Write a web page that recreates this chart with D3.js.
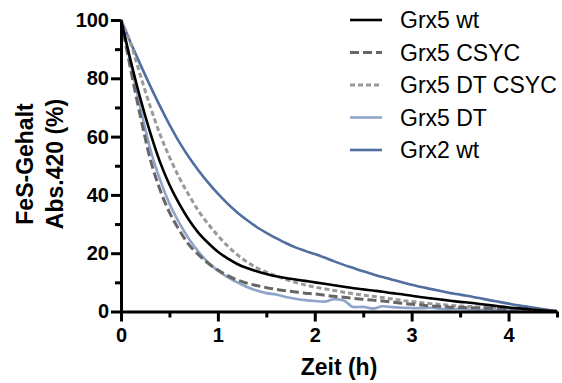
<!DOCTYPE html>
<html>
<head>
<meta charset="utf-8">
<script src="https://cdn.jsdelivr.net/npm/d3@7"></script>
<style>
    body { margin: 0; background: #fff; }
    svg { display: block; font-family: "Liberation Sans", Arial, sans-serif; }
</style>
</head>
<body>
<svg></svg>
<script>
// time points (h)
var times = [0, 0.1, 0.2, 0.3, 0.4, 0.5, 0.6, 0.7, 0.8, 0.9,
    1.0, 1.1, 1.2, 1.3, 1.4, 1.5, 1.6, 1.7, 1.8, 1.9,
    2.0, 2.1, 2.2, 2.3, 2.4, 2.5, 2.6, 2.7, 2.8, 2.9,
    3.0, 3.1, 3.2, 3.3, 3.4, 3.5, 3.6, 3.7, 3.8, 3.9,
    4.0, 4.1, 4.2, 4.3, 4.4, 4.5];

var grx5wt = [100, 86, 73, 61.5, 51.5, 43.5, 37, 31.5, 27, 23.5,
    20.5, 18.2, 16.3, 14.9, 13.8, 12.9, 12.1, 11.5, 11.0, 10.5,
    10.0, 9.5, 9.0, 8.5, 8.0, 7.6, 7.2, 6.8, 6.3, 5.9,
    5.4, 4.9, 4.5, 4.1, 3.7, 3.3, 3.0, 2.6, 2.2, 1.8,
    1.4, 1.1, 0.8, 0.5, 0.3, 0.1];

var grx5csyc = [100, 83, 67, 52.5, 42, 34, 28, 23, 19.5, 16.5,
    14.2, 12.3, 10.8, 9.7, 8.9, 8.2, 7.6, 7.1, 6.7, 6.3,
    6.0, 5.6, 5.2, 4.9, 4.5, 4.2, 3.9, 3.6, 3.2, 2.8,
    2.5, 2.2, 1.9, 1.7, 1.5, 1.4, 1.3, 1.2, 1.1, 1.0,
    0.9, 0.8, 0.6, 0.5, 0.3, 0.1];

var grx5dtcsyc = [100, 92, 81, 70.5, 61, 53, 46, 40, 34.5, 30,
    26, 22.5, 19.5, 17, 15, 13.5, 12.2, 11.0, 10.0, 9.1,
    8.4, 7.8, 7.2, 6.6, 6.1, 5.6, 5.2, 4.8, 4.3, 3.8,
    3.4, 3.0, 2.7, 2.4, 2.1, 1.9, 1.7, 1.5, 1.3, 1.1,
    0.9, 0.7, 0.6, 0.4, 0.3, 0.1];

var grx5dt = [100, 85, 70, 56, 45.5, 37, 30.5, 25, 20.5, 16.8,
    14.0, 11.8, 10.0, 8.4, 7.2, 6.3, 5.8, 5.0, 4.4, 3.9,
    3.6, 3.4, 4.2, 3.8, 1.5, 1.6, 1.0, 1.8, 1.5, 1.3,
    1.2, 1.1, 1.3, 0.9, 0.8, 0.9, 0.7, 0.6, 0.7, 0.5,
    0.5, 0.4, 0.4, 0.3, 0.2, 0.1];

var grx2wt = [100, 92.2, 84.7, 77.5, 70.6, 64.1, 58.2, 53.0, 48.4, 44.2,
    40.4, 37, 34, 31.4, 29, 27, 25.2, 23.5, 22, 20.8,
    19.7, 18.5, 17.2, 16.0, 14.9, 13.8, 12.8, 11.8, 10.9, 10.0,
    9.2, 8.4, 7.7, 7.0, 6.3, 5.8, 5.2, 4.6, 3.9, 3.3,
    2.7, 2.1, 1.6, 1.1, 0.6, 0.1];

var seriesNames = ["Grx5 wt", "Grx5 CSYC", "Grx5 DT CSYC", "Grx5 DT", "Grx2 wt"];
var xTicks = [0, 1, 2, 3, 4];
var xMinorTicks = [0.5, 1.5, 2.5, 3.5, 4.5];
var yTicks = [0, 20, 40, 60, 80, 100];
var yMinorTicks = [10, 30, 50, 70, 90];

var svgWidth = 562, svgHeight = 383;
var svg = d3.select("svg")
    .attr("width", svgWidth)
    .attr("height", svgHeight);

var x = d3.scaleLinear().domain([0, 4.5]).range([121, 557]);
var y = d3.scaleLinear().domain([0, 100]).range([311.5, 20]);

var styles = [
    {color: "#000000", width: 2.6, dash: null},
    {color: "#666666", width: 3, dash: "9,4"},
    {color: "#999999", width: 3, dash: "5,3"},
    {color: "#8ea4c8", width: 2.6, dash: null},
    {color: "#506e9f", width: 2.6, dash: null}
];
var allSeries = [grx5wt, grx5csyc, grx5dtcsyc, grx5dt, grx2wt];

var line = d3.line()
    .x(function (d, i) { return x(times[i]); })
    .y(function (d) { return y(d); })
    .curve(d3.curveMonotoneX);

// draw from back to front
var order = [4, 2, 3, 1, 0];
order.forEach(function (k) {
    svg.append("path")
        .datum(allSeries[k])
        .attr("fill", "none")
        .attr("stroke", styles[k].color)
        .attr("stroke-width", styles[k].width)
        .attr("stroke-dasharray", styles[k].dash)
        .attr("stroke-linejoin", "round")
        .attr("d", line);
});

// minor ticks
svg.append("g")
    .attr("transform", "translate(0,311.5)")
    .call(d3.axisBottom(x).tickValues(xMinorTicks).tickSize(6).tickFormat(""))
    .call(function (g) { g.select(".domain").remove(); })
    .selectAll("line").attr("stroke-width", 3);

svg.append("g")
    .attr("transform", "translate(121,0)")
    .call(d3.axisLeft(y).tickValues(yMinorTicks).tickSize(6).tickFormat(""))
    .call(function (g) { g.select(".domain").remove(); })
    .selectAll("line").attr("stroke-width", 3);

// main axes
var xAxis = svg.append("g")
    .attr("transform", "translate(0,311.5)")
    .call(d3.axisBottom(x).tickValues(xTicks).tickFormat(d3.format("d"))
        .tickSize(10).tickSizeOuter(0).tickPadding(6));

var yAxis = svg.append("g")
    .attr("transform", "translate(121,0)")
    .call(d3.axisLeft(y).tickValues(yTicks).tickFormat(d3.format("d"))
        .tickSize(10).tickSizeOuter(0).tickPadding(2));

[xAxis, yAxis].forEach(function (g) {
    g.select(".domain").attr("stroke-width", 3);
    g.selectAll("line").attr("stroke-width", 3);
    g.selectAll("text")
        .attr("font-size", "20px")
        .attr("font-weight", "bold")
        .attr("font-family", "Liberation Sans, Arial, sans-serif")
        .attr("fill", "#000");
});

// axis titles
svg.append("text")
    .attr("x", 339)
    .attr("y", 375)
    .attr("text-anchor", "middle")
    .attr("font-size", "23px")
    .attr("font-weight", "bold")
    .text("Zeit (h)");

var yTitle = svg.append("text")
    .attr("transform", "translate(33,164) rotate(-90)")
    .attr("text-anchor", "middle")
    .attr("font-size", "23px")
    .attr("font-weight", "bold");
yTitle.append("tspan").attr("x", 0).attr("y", 0).text("FeS-Gehalt");
yTitle.append("tspan").attr("x", 0).attr("y", 30).text("Abs.420 (%)");

// legend
var legend = svg.append("g")
    .selectAll("g")
    .data(seriesNames)
    .enter()
    .append("g")
    .attr("transform", function (d, i) {
        return "translate(350," + (20 + i * 32.5) + ")";
    });

legend.append("line")
    .attr("x1", 0)
    .attr("x2", 32)
    .attr("stroke", function (d, i) { return styles[i].color; })
    .attr("stroke-width", function (d, i) { return styles[i].width; })
    .attr("stroke-dasharray", function (d, i) { return styles[i].dash; });

legend.append("text")
    .attr("x", 50)
    .attr("y", 0)
    .attr("dy", "0.36em")
    .attr("font-size", "23px")
    .attr("fill", "#000")
    .text(function (d) { return d; });
</script>
</body>
</html>
